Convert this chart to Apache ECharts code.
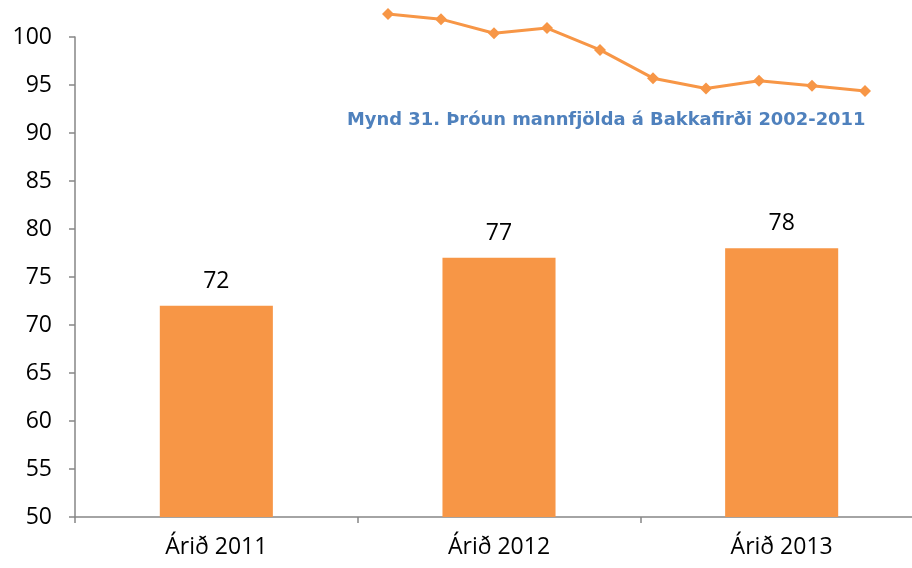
<!DOCTYPE html>
<html>
<head>
<meta charset="utf-8">
<script src="https://cdn.jsdelivr.net/npm/echarts@6/dist/echarts.min.js"></script>
<style>
  html, body { margin: 0; padding: 0; background: #fff; overflow: hidden; }
  /* aðeins breiðara en glugginn: síðasti flokkurinn nær út fyrir hægri brún */
  #chart { width: 935px; height: 568px; }
</style>
</head>
<body>
<div id="chart"></div>
<script>
// súlurit: fjöldi íbúa eftir árum
const categories = ['Árið 2011', 'Árið 2012', 'Árið 2013'];
const barValues = [72, 77, 78];
const yTicks = [50, 55, 60, 65, 70, 75, 80, 85, 90, 95, 100];

// lína efst (önnur mynd sem sést að hluta), 2002-2011
const lineYears = ['2002', '2003', '2004', '2005', '2006', '2007', '2008', '2009', '2010', '2011'];
const lineValues = [132, 128, 117, 121, 104, 82, 74, 80, 76, 72];

const orange = '#F79646';
const axisGray = '#868686';
const font = '"Open Sans", "Liberation Sans", sans-serif';

const chart = echarts.init(document.getElementById('chart'));

const option = {
  animation: false,
  title: {
    text: 'Mynd 31. Þróun mannfjölda á Bakkafirði 2002-2011',
    left: 342,
    top: 106,
    textStyle: {
      fontFamily: '"DejaVu Sans", sans-serif',
      fontWeight: 'bold',
      fontSize: 17.9,
      color: '#4F81BD'
    }
  },
  grid: [
    { left: 75, right: 12, top: 37, bottom: 51 },
    { left: 388, right: 70, top: 14, bottom: 477 }
  ],
  xAxis: [
    {
      type: 'category',
      gridIndex: 0,
      data: categories,
      axisLine: { lineStyle: { color: axisGray, width: 1.5 } },
      axisTick: { show: true, length: 6, lineStyle: { color: axisGray, width: 1.5 } },
      axisLabel: { color: '#000', fontSize: 23, fontFamily: font, margin: 19 }
    },
    {
      type: 'category',
      gridIndex: 1,
      data: lineYears,
      boundaryGap: false,
      show: false
    }
  ],
  yAxis: [
    {
      type: 'value',
      gridIndex: 0,
      min: yTicks[0],
      max: yTicks[yTicks.length - 1],
      interval: 5,
      splitLine: { show: false },
      axisLine: { show: true, lineStyle: { color: axisGray, width: 1.5 } },
      axisTick: { show: true, length: 6, lineStyle: { color: axisGray, width: 1.5 } },
      axisLabel: { color: '#000', fontSize: 23, fontFamily: font, margin: 23 }
    },
    {
      type: 'value',
      gridIndex: 1,
      min: 72,
      max: 132,
      show: false,
      splitLine: { show: false }
    }
  ],
  series: [
    {
      type: 'bar',
      xAxisIndex: 0,
      yAxisIndex: 0,
      data: barValues,
      barWidth: '40%',
      itemStyle: { color: orange },
      label: {
        show: true,
        position: 'top',
        distance: 13,
        color: '#000',
        fontSize: 23,
        fontFamily: font
      }
    },
    {
      type: 'line',
      xAxisIndex: 1,
      yAxisIndex: 1,
      data: lineValues,
      symbol: 'diamond',
      symbolSize: 12,
      lineStyle: { color: orange, width: 3 },
      itemStyle: { color: orange }
    }
  ]
};

chart.setOption(option);
window.onresize = function () {
  chart.resize();
};
</script>
</body>
</html>
